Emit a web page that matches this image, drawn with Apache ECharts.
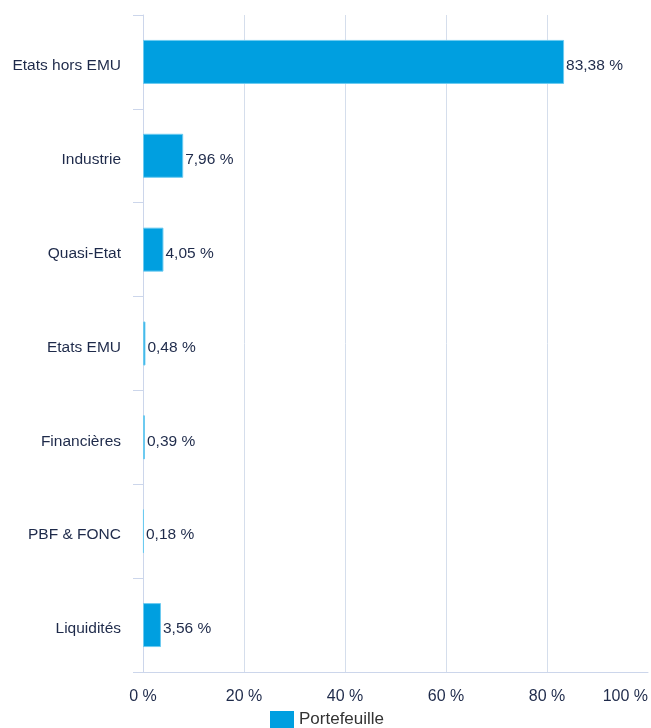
<!DOCTYPE html>
<html>
<head>
<meta charset="utf-8">
<script src="https://cdn.jsdelivr.net/npm/echarts@6/dist/echarts.min.js"></script>
<style>
html,body{margin:0;padding:0;background:#fff;}
#chart{width:651px;height:728px;}
</style>
</head>
<body>
<div id="chart"></div>
<script>
const categories = ['Etats hors EMU', 'Industrie', 'Quasi-Etat', 'Etats EMU', 'Financières', 'PBF & FONC', 'Liquidités'];
const values = [83.38, 7.96, 4.05, 0.48, 0.39, 0.18, 3.56];
const seriesName = 'Portefeuille';
const xTicks = [0, 20, 40, 60, 80, 100];

const fmt = v => v.toFixed(2).replace('.', ',') + ' %';
const textColor = '#1e2a4a';
const font = 'Liberation Sans, Arial, Helvetica, sans-serif';

const chart = echarts.init(document.getElementById('chart'));
chart.setOption({
  animation: false,
  backgroundColor: '#ffffff',
  grid: { left: 143, right: 0, top: 15, bottom: 56, containLabel: false },
  legend: {
    data: [seriesName],
    left: 270, top: 711, padding: 0,
    icon: 'rect', itemWidth: 24, itemHeight: 17,
    itemStyle: { borderWidth: 0 },
    textStyle: { fontSize: 17, color: '#333333', fontFamily: font }
  },
  xAxis: {
    type: 'value', min: xTicks[0], max: xTicks[xTicks.length - 1], interval: 20,
    axisLine: { show: true, lineStyle: { color: '#ccd6eb', width: 1 } },
    axisTick: { show: false },
    splitLine: { show: true, showMaxLine: false, lineStyle: { color: '#d5deec', width: 1 } },
    axisLabel: {
      margin: 17, fontSize: 16, color: textColor, fontFamily: font,
      alignMaxLabel: 'right',
      formatter: v => v + ' %'
    }
  },
  yAxis: {
    type: 'category', data: categories, inverse: true,
    axisLine: { show: true, lineStyle: { color: '#ccd6eb', width: 1 } },
    axisTick: { show: true, length: 10, alignWithLabel: false, lineStyle: { color: '#ccd6eb' } },
    splitLine: { show: false },
    axisLabel: { margin: 22, fontSize: 15.5, color: textColor, fontFamily: font, verticalAlign: 'top', lineHeight: 8 }
  },
  series: [{
    name: seriesName,
    type: 'bar',
    data: values,
    barWidth: 44,
    itemStyle: { color: '#009fe0', borderColor: '#6ccaf0', borderWidth: 1 },
    label: {
      show: true, position: 'right', distance: 2, offset: [0, 4],
      fontSize: 15.5, color: textColor, fontFamily: font,
      formatter: p => fmt(p.value)
    }
  }]
});
</script>
</body>
</html>
